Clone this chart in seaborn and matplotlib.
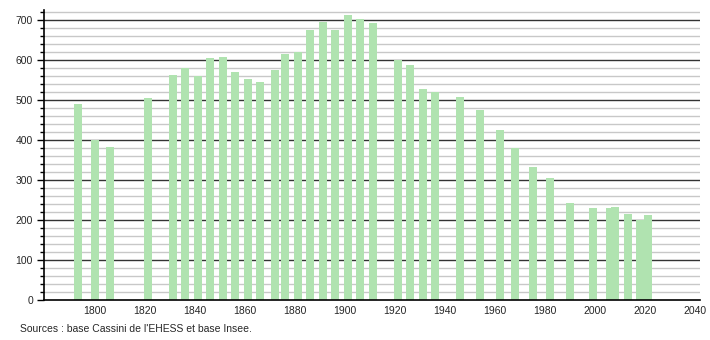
import matplotlib
matplotlib.use("Agg")
import matplotlib.pyplot as plt
import seaborn as sns
import pandas as pd
import numpy as np

years = [1793, 1800, 1806, 1821, 1831, 1836, 1841, 1846, 1851, 1856,
         1861, 1866, 1872, 1876, 1881, 1886, 1891, 1896, 1901, 1906,
         1911, 1921, 1926, 1931, 1936, 1946, 1954, 1962, 1968, 1975,
         1982, 1990, 1999, 2006, 2008, 2013, 2018, 2021]
population = [490, 400, 382, 504, 562, 581, 560, 605, 607, 570,
              552, 546, 574, 616, 621, 674, 695, 674, 712, 702,
              692, 600, 587, 527, 520, 507, 474, 425, 381, 332,
              305, 243, 230, 229, 232, 215, 200, 212]
x_ticks = [1800, 1820, 1840, 1860, 1880, 1900, 1920, 1940, 1960, 1980, 2000, 2020, 2040]
y_ticks = [0, 100, 200, 300, 400, 500, 600, 700]
source_text = "Sources : base Cassini de l'EHESS et base Insee."

df = pd.DataFrame({"year": years, "pop": population})

sns.set_theme(style="white")
plt.rcParams['font.family'] = ['Liberation Sans', 'DejaVu Sans']

fig = plt.figure(figsize=(7.1, 3.4), dpi=100)
ax = fig.add_axes([44 / 710, 40 / 340, (700 - 44) / 710, (300 - 10) / 340])

# gridlines
for v in np.arange(20, 740, 20):
    if v % 100 == 0:
        ax.axhline(v, color="#333333", lw=1.0, zorder=0)
    else:
        ax.axhline(v, color="#c8c8c8", lw=1.0, zorder=0)

ax.bar(df["year"], df["pop"], width=3.2, color="#b0e3b0", zorder=2, linewidth=0)

ax.set_xlim(1779.6, 2042)
ax.set_ylim(0, 725)
ax.set_xticks(x_ticks)
ax.set_xticklabels([str(t) for t in x_ticks], fontsize=7.5)
ax.set_yticks(y_ticks)
ax.set_yticklabels([str(t) for t in y_ticks], fontsize=7.5)
ax.set_yticks(np.arange(0, 725, 20), minor=True)
ax.tick_params(axis="y", which="major", length=5, width=1, color="black", direction="out", left=True, pad=3)
ax.tick_params(axis="y", which="minor", length=3, width=1, color="black", direction="out", left=True)
ax.tick_params(axis="x", which="both", length=0, pad=4)

for s in ["top", "right"]:
    ax.spines[s].set_visible(False)
for s in ["left", "bottom"]:
    ax.spines[s].set_color("black")
    ax.spines[s].set_linewidth(1.2)

ax.set_xlabel("")
ax.set_ylabel("")

fig.text(20 / 710, 1 - 329 / 340, source_text, fontsize=7.5, va="center", ha="left")

fig.savefig("out.png", dpi=100)
